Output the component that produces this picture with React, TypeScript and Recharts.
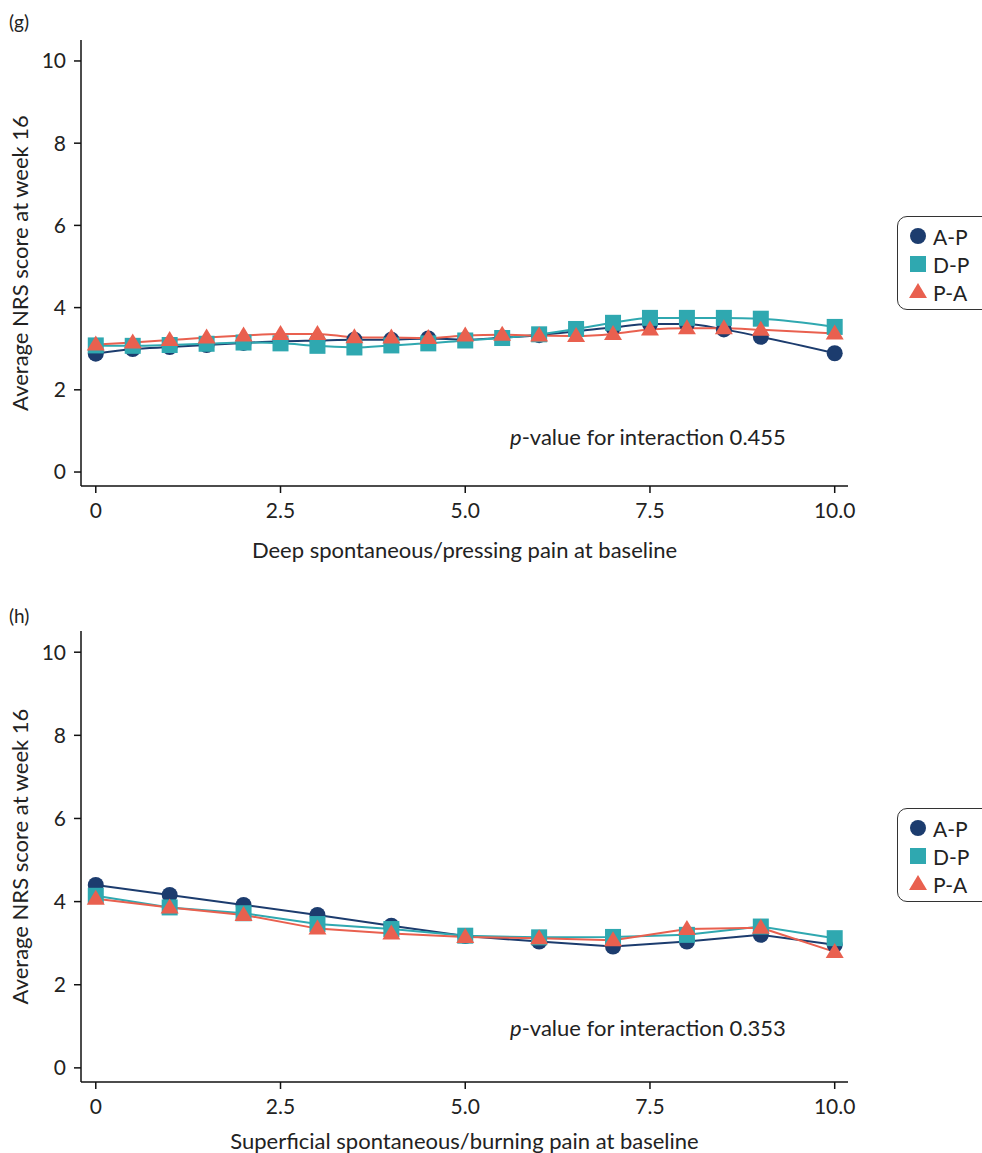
import React from 'react';
import { LineChart, Line, XAxis, YAxis } from 'recharts';

// panel (g): deep spontaneous/pressing pain
const xDeep = [0, 0.5, 1, 1.5, 2, 2.5, 3, 3.5, 4, 4.5, 5, 5.5, 6, 6.5, 7, 7.5, 8, 8.5, 9, 10];
const deepAP = [2.88, 2.99, 3.04, 3.09, 3.14, 3.18, 3.2, 3.22, 3.22, 3.25, 3.22, 3.27, 3.33, 3.42, 3.52, 3.6, 3.6, 3.47, 3.29, 2.89];
const deepDP = [3.08, 3.07, 3.09, 3.12, 3.15, 3.13, 3.07, 3.03, 3.08, 3.13, 3.2, 3.26, 3.35, 3.48, 3.63, 3.75, 3.75, 3.75, 3.73, 3.53];
const deepPA = [3.1, 3.15, 3.21, 3.27, 3.32, 3.36, 3.36, 3.28, 3.27, 3.26, 3.32, 3.34, 3.32, 3.31, 3.36, 3.47, 3.5, 3.5, 3.46, 3.37];

// panel (h): superficial spontaneous/burning pain
const xSup = [0, 1, 2, 3, 4, 5, 6, 7, 8, 9, 10];
const supAP = [4.4, 4.16, 3.92, 3.68, 3.42, 3.17, 3.04, 2.92, 3.04, 3.2, 2.96];
const supDP = [4.14, 3.86, 3.72, 3.46, 3.34, 3.18, 3.14, 3.15, 3.2, 3.4, 3.12];
const supPA = [4.07, 3.86, 3.68, 3.35, 3.23, 3.15, 3.12, 3.07, 3.34, 3.37, 2.79];

const xTicks = [0, 2.5, 5, 7.5, 10];
const yTicks = [0, 2, 4, 6, 8, 10];

const NAVY = '#1c3c6e';
const TEAL = '#2fa8b0';
const CORAL = '#e9604f';
const FONT = 'Lato, "Noto Sans", sans-serif';

const series = [
  { key: 'ap', name: 'A-P', color: NAVY, shape: 'circle' },
  { key: 'dp', name: 'D-P', color: TEAL, shape: 'square' },
  { key: 'pa', name: 'P-A', color: CORAL, shape: 'triangle' },
];

function Marker({ cx, cy, shape, color }: any) {
  if (cx == null || cy == null) return null;
  if (shape === 'circle') return <circle cx={cx} cy={cy} r={8} fill={color} />;
  if (shape === 'square') return <rect x={cx - 8} y={cy - 8} width={16} height={16} fill={color} />;
  return <path d={`M${cx},${cy - 9} L${cx + 9},${cy + 6} L${cx - 9},${cy + 6} Z`} fill={color} />;
}

function LegendBox({ top }: { top: number }) {
  return (
    <div
      style={{
        position: 'absolute',
        left: 897,
        top,
        border: '1.5px solid #333',
        borderRadius: 10,
        width: 110,
        height: 94,
        boxSizing: 'border-box',
        paddingTop: 5,
        fontFamily: FONT,
        fontSize: 21,
        color: '#222',
      }}
    >
      {series.map((s) => (
        <div key={s.key} style={{ display: 'flex', alignItems: 'center', height: 28 }}>
          <svg width={35} height={28} style={{ flexShrink: 0 }}>
            <Marker cx={20} cy={14} shape={s.shape} color={s.color} />
          </svg>
          <span>{s.name}</span>
        </div>
      ))}
    </div>
  );
}

function Panel({ xs, ap, dp, pa, title, linear, height, top, bottom, axisH }: any) {
  const data = xs.map((x: number, i: number) => ({ x, ap: ap[i], dp: dp[i], pa: pa[i] }));
  return (
    <LineChart
      width={982}
      height={height}
      data={data}
      margin={{ top, right: 134, bottom, left: 0 }}
      style={{ fontFamily: FONT }}
    >
      <XAxis
        type="number"
        dataKey="x"
        domain={[-0.2, 10.18]}
        ticks={xTicks}
        allowDataOverflow
        tickFormatter={(v: number) => (v === 0 ? '0' : v.toFixed(1))}
        tick={{ fill: '#222', fontSize: 21 }}
        tickSize={7}
        tickMargin={10}
        height={axisH}
        axisLine={{ stroke: '#111', strokeWidth: 1.5 }}
        tickLine={{ stroke: '#111', strokeWidth: 1.5 }}
        label={{ value: title, position: 'insideBottom', offset: 0, fill: '#222', fontSize: 22 }}
      />
      <YAxis
        type="number"
        domain={[-0.34, 10.51]}
        ticks={yTicks}
        allowDataOverflow
        width={81}
        tick={{ fill: '#222', fontSize: 21 }}
        tickSize={7}
        tickMargin={8}
        axisLine={{ stroke: '#111', strokeWidth: 1.5 }}
        tickLine={{ stroke: '#111', strokeWidth: 1.5 }}
        label={{
          value: 'Average NRS score at week 16',
          angle: -90,
          position: 'insideLeft',
          offset: 20,
          fill: '#222',
          fontSize: 22,
          style: { textAnchor: 'middle' },
        }}
      />
      {series.map((s) => (
        <Line
          key={s.key}
          dataKey={s.key}
          name={s.name}
          type={linear ? 'linear' : 'monotone'}
          stroke={s.color}
          strokeWidth={2}
          isAnimationActive={false}
          dot={(p: any) => <Marker key={`${s.key}-${p.index}`} cx={p.cx} cy={p.cy} shape={s.shape} color={s.color} />}
          activeDot={false}
        />
      ))}
    </LineChart>
  );
}

const textStyle: React.CSSProperties = {
  position: 'absolute',
  fontFamily: FONT,
  fontSize: 22,
  color: '#222',
  lineHeight: '26px',
  whiteSpace: 'nowrap',
};

export default function App() {
  return (
    <div style={{ position: 'fixed', left: 0, top: 0, width: 982, height: 1153, overflow: 'hidden', background: '#fff' }}>
      <div style={{ ...textStyle, left: 9, top: 9, fontSize: 19 }}>(g)</div>
      <div style={{ position: 'absolute', left: 0, top: 0 }}>
        <Panel
          xs={xDeep}
          ap={deepAP}
          dp={deepDP}
          pa={deepPA}
          title="Deep spontaneous/pressing pain at baseline"
          height={570}
          top={40}
          bottom={12}
          axisH={72}
        />
      </div>
      <LegendBox top={216} />
      <div style={{ ...textStyle, left: 510, top: 424 }}>
        <i>p</i>-value for interaction 0.455
      </div>

      <div style={{ ...textStyle, left: 9, top: 603, fontSize: 19 }}>(h)</div>
      <div style={{ position: 'absolute', left: 0, top: 590 }}>
        <Panel
          xs={xSup}
          ap={supAP}
          dp={supDP}
          pa={supPA}
          title="Superficial spontaneous/burning pain at baseline"
          height={563}
          top={41}
          bottom={4}
          axisH={67}
          linear
        />
      </div>
      <LegendBox top={808} />
      <div style={{ ...textStyle, left: 510, top: 1015 }}>
        <i>p</i>-value for interaction 0.353
      </div>
    </div>
  );
}
